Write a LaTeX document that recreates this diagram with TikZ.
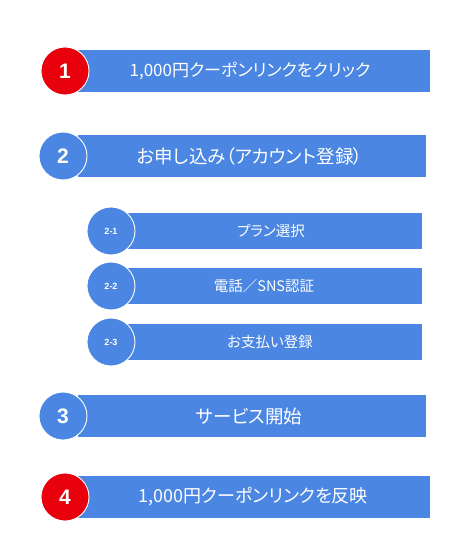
\documentclass[tikz,border=0pt]{standalone}
\usepackage{fontspec}
\setmainfont[RawFeature=+palt]{Noto Sans CJK JP}
\newfontfamily\numfont{Liberation Sans}
\definecolor{barblue}{HTML}{4A86E2}
\definecolor{numred}{HTML}{E8000C}
\tikzset{
  bar/.style={fill=barblue, draw=none, anchor=north west, inner sep=0pt},
  mainbar/.style={bar, minimum height=42pt},
  subbar/.style={bar, minimum height=36pt, minimum width=294pt},
  numcircle/.style={circle, draw=white, line width=0.9pt, minimum size=48pt, inner sep=0pt, text=white, font=\numfont\bfseries\fontsize{21}{23}\selectfont},
  subcircle/.style={numcircle, font=\numfont\bfseries\fontsize{9}{10}\selectfont},
  maintext/.style={text=white, font=\fontsize{18.5}{20}\selectfont, inner sep=0pt},
  subtext/.style={text=white, font=\fontsize{14.5}{16}\selectfont, inner sep=0pt}
}
\begin{document}
\begin{tikzpicture}[x=1pt,y=-1pt]
\useasboundingbox (0,0) rectangle (475,540);
% step 1
\node[mainbar, minimum width=352pt] (b1) at (78,50) {};
\node[numcircle, fill=numred] (c1) at (65,71) {1};
\node[maintext, font=\fontsize{17}{19}\selectfont] (t1) at (250,71) {1,000円クーポンリンクをクリック};
% step 2
\node[mainbar, minimum width=348pt] (b2) at (78,135) {};
\node[numcircle, fill=barblue] (c2) at (63,156) {2};
\node[maintext] (t2) at (250,156) {お申し込み（アカウント登録）};
% sub steps
\node[subbar] (b21) at (128,213) {};
\node[subcircle, fill=barblue] (c21) at (111,231) {2-1};
\node[subtext] (t21) at (271,231) {プラン選択};
\node[subbar] (b22) at (128,268) {};
\node[subcircle, fill=barblue] (c22) at (111,286) {2-2};
\node[subtext] (t22) at (264,286) {電話／SNS認証};
\node[subbar] (b23) at (128,324) {};
\node[subcircle, fill=barblue] (c23) at (111,342) {2-3};
\node[subtext] (t23) at (270,342) {お支払い登録};
% step 3
\node[mainbar, minimum width=348pt] (b3) at (78,395) {};
\node[numcircle, fill=barblue] (c3) at (63,416) {3};
\node[maintext] (t3) at (249,416) {サービス開始};
% step 4
\node[mainbar, minimum width=352pt] (b4) at (78,476) {};
\node[numcircle, fill=numred] (c4) at (65,497) {4};
\node[maintext, font=\fontsize{18}{20}\selectfont] (t4) at (253,497) {1,000円クーポンリンクを反映};
\end{tikzpicture}
\end{document}
